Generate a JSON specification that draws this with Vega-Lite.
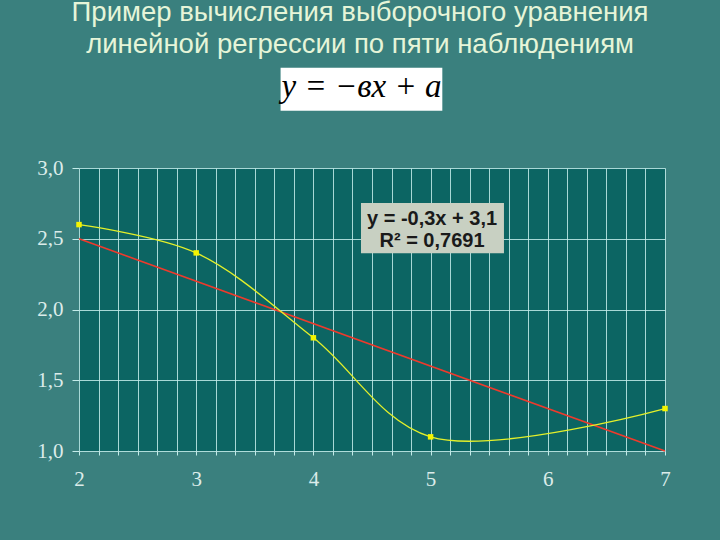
{
  "$schema": "https://vega.github.io/schema/vega-lite/v6.json",
  "width": 586,
  "height": 283,
  "autosize": {"type": "none"},
  "padding": {"left": 79, "top": 168, "right": 55, "bottom": 89},
  "background": "#3a807e",
  "config": {
    "view": {"fill": "#0c6563", "stroke": null},
    "axis": {"labelFont": "Liberation Serif", "labelFontSize": 21, "labelColor": "#dcecea", "grid": true, "gridColor": "#c4ecea", "gridOpacity": 0.85, "gridWidth": 1, "tickColor": "#c4ecea", "domain": false, "title": null, "labelOverlap": false, "labelBound": false, "labelFlush": false}
  },
  "datasets": {
    "obs": [
      {"x": 2, "y": 2.6},
      {"x": 3, "y": 2.4},
      {"x": 4, "y": 1.8},
      {"x": 5, "y": 1.1},
      {"x": 7, "y": 1.3}
    ],
    "one": [{"id": 1}]
  },
  "layer": [
    {
      "data": {"name": "obs"},
      "mark": {"type": "point", "opacity": 0},
      "encoding": {
        "x": {"field": "x", "type": "quantitative", "scale": {"domain": [2, 7], "nice": false, "zero": false},
          "axis": {"grid": true, "tickCount": 100, "values": [2, 2.16667, 2.33333, 2.5, 2.66667, 2.83333, 3, 3.16667, 3.33333, 3.5, 3.66667, 3.83333, 4, 4.16667, 4.33333, 4.5, 4.66667, 4.83333, 5, 5.16667, 5.33333, 5.5, 5.66667, 5.83333, 6, 6.16667, 6.33333, 6.5, 6.66667, 6.83333, 7],
            "labelExpr": "abs(datum.value - round(datum.value)) < 0.001 ? format(datum.value, 'd') : ''",
            "tickSize": 4, "labelPadding": 13, "labelOverlap": false, "labelFlush": false}},
        "y": {"field": "y", "type": "quantitative", "scale": {"domain": [1, 3], "nice": false, "zero": false},
          "axis": {"grid": true, "tickCount": 20, "values": [1, 1.5, 2, 2.5, 3], "labelExpr": "replace(format(datum.value, '.1f'), '.', ',')", "tickSize": 7, "labelPadding": 9, "labelFlush": false}}
      }
    },
    {
      "data": {"name": "one"},
      "mark": {"type": "rect", "fill": "#ffffff"},
      "encoding": {"x": {"datum": 3.72}, "x2": {"datum": 5.1}, "y": {"datum": 3.709}, "y2": {"datum": 3.404}}
    },
    {
      "data": {"name": "one"},
      "mark": {"type": "text", "text": ["Пример вычисления выборочного уравнения", "линейной регрессии по пяти наблюдениям"], "font": "Liberation Sans", "fontSize": 27.5, "lineHeight": 32, "color": "#e6f5d8", "align": "center", "baseline": "alphabetic"},
      "encoding": {"x": {"datum": 4.398}, "y": {"datum": 4.036}}
    },
    {
      "data": {"name": "one"},
      "mark": {"type": "text", "text": "y = −вx + a", "font": "Liberation Serif", "fontStyle": "italic", "fontSize": 33, "color": "#000000", "align": "center", "baseline": "alphabetic"},
      "encoding": {"x": {"datum": 4.41}, "y": {"datum": 3.504}}
    },
    {
      "data": {"name": "one"},
      "mark": {"type": "rect", "fill": "#c8d0c2"},
      "encoding": {"x": {"datum": 4.406}, "x2": {"datum": 5.626}, "y": {"datum": 2.752}, "y2": {"datum": 2.397}}
    },
    {
      "data": {"name": "one"},
      "mark": {"type": "text", "text": ["y = -0,3x + 3,1", "R² = 0,7691"], "font": "Liberation Sans", "fontWeight": "bold", "fontSize": 20, "lineHeight": 22, "color": "#1a1a1a", "align": "center", "baseline": "alphabetic"},
      "encoding": {"x": {"datum": 5.012}, "y": {"datum": 2.596}}
    },
    {
      "data": {"name": "obs"},
      "transform": [{"regression": "y", "on": "x", "extent": [2, 7]}],
      "mark": {"type": "line", "color": "#ee3a2c", "strokeWidth": 1.6},
      "encoding": {"x": {"field": "x", "type": "quantitative"}, "y": {"field": "y", "type": "quantitative"}}
    },
    {
      "data": {"name": "obs"},
      "mark": {"type": "line", "color": "#e4f02a", "strokeWidth": 1.3, "interpolate": "catmull-rom"},
      "encoding": {"x": {"field": "x", "type": "quantitative"}, "y": {"field": "y", "type": "quantitative"}}
    },
    {
      "data": {"name": "obs"},
      "mark": {"type": "point", "shape": "square", "filled": true, "color": "#f4f400", "opacity": 1, "size": 30},
      "encoding": {"x": {"field": "x", "type": "quantitative"}, "y": {"field": "y", "type": "quantitative"}}
    }
  ]
}
